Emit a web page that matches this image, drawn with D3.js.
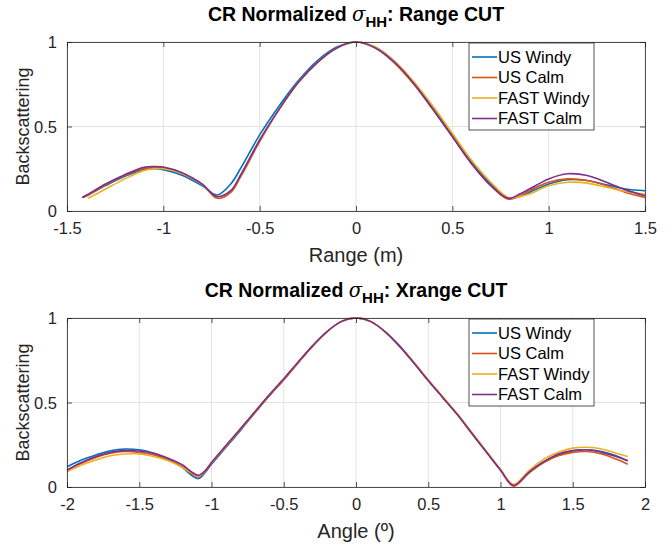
<!DOCTYPE html>
<html>
<head>
<meta charset="utf-8">
<script src="https://cdn.jsdelivr.net/npm/d3@7"></script>
<style>
  body { margin: 0; background: #fff; }
  svg { display: block; font-family: "Liberation Sans", Arial, sans-serif; }
</style>
</head>
<body>
<svg id="chart" width="671" height="544"></svg>
<script>
// series names and colours (MATLAB default order)
const seriesNames = ['US Windy', 'US Calm', 'FAST Windy', 'FAST Calm'];
const seriesColors = ['#0072BD', '#D95319', '#EDB120', '#7E2F8E'];

// Range cut (top panel)
const rangeX = [-1.42,-1.39,-1.3,-1.2,-1.1,-1.05,-1.0,-0.9,-0.8,-0.72,-0.65,-0.6,-0.5,-0.4,-0.3,-0.2,-0.1,0,
  0.1,0.2,0.3,0.4,0.5,0.6,0.7,0.79,0.85,0.9,1.0,1.1,1.2,1.3,1.4,1.5];
const rangeUSWindy = [0.08,0.095,0.15,0.205,0.245,0.25,0.245,0.21,0.15,0.095,0.16,0.25,0.45,0.62,0.77,0.89,0.97,1,
  0.97,0.885,0.76,0.61,0.45,0.29,0.16,0.075,0.085,0.11,0.16,0.185,0.18,0.155,0.13,0.12];
const rangeUSCalm = [0.08,0.095,0.155,0.21,0.25,0.258,0.255,0.22,0.16,0.075,0.11,0.2,0.41,0.6,0.76,0.88,0.965,1,
  0.965,0.875,0.75,0.6,0.44,0.28,0.15,0.07,0.09,0.12,0.17,0.19,0.18,0.15,0.11,0.08];
const rangeFASTWindy = [null,0.075,0.13,0.19,0.24,0.25,0.25,0.22,0.16,0.085,0.12,0.21,0.42,0.6,0.76,0.88,0.965,1,
  0.97,0.885,0.765,0.62,0.46,0.3,0.17,0.08,0.085,0.1,0.15,0.17,0.165,0.14,0.115,0.10];
const rangeFASTCalm = [0.08,0.1,0.16,0.215,0.258,0.263,0.26,0.225,0.16,0.085,0.12,0.21,0.42,0.6,0.76,0.88,0.965,1,
  0.965,0.88,0.755,0.6,0.44,0.28,0.15,0.075,0.1,0.13,0.19,0.22,0.21,0.17,0.125,0.09];

// Xrange cut (bottom panel)
const xrangeX = [-2,-1.9,-1.8,-1.7,-1.6,-1.5,-1.4,-1.3,-1.2,-1.14,-1.09,-1.04,-1.0,-0.9,-0.8,-0.7,-0.6,-0.5,-0.4,-0.3,-0.2,-0.1,0,
  0.1,0.2,0.3,0.4,0.5,0.6,0.7,0.8,0.9,1.0,1.09,1.2,1.3,1.4,1.5,1.6,1.7,1.8,1.88];
const xrangeUSWindy = [0.12,0.16,0.19,0.215,0.225,0.22,0.2,0.165,0.115,0.07,0.05,0.09,0.135,0.235,0.335,0.44,0.54,0.635,0.735,0.835,0.92,0.98,1,
  0.98,0.92,0.835,0.735,0.63,0.53,0.43,0.32,0.21,0.1,0.01,0.09,0.15,0.19,0.215,0.22,0.21,0.185,0.155];
const xrangeUSCalm = [0.10,0.14,0.175,0.2,0.21,0.205,0.19,0.16,0.12,0.08,0.06,0.095,0.14,0.24,0.34,0.44,0.54,0.635,0.735,0.835,0.92,0.98,1,
  0.98,0.92,0.835,0.735,0.63,0.53,0.43,0.32,0.21,0.1,0.005,0.085,0.145,0.185,0.205,0.21,0.195,0.165,0.135];
const xrangeFASTWindy = [0.09,0.13,0.16,0.185,0.195,0.195,0.18,0.155,0.115,0.085,0.065,0.1,0.145,0.245,0.345,0.445,0.545,0.64,0.74,0.835,0.92,0.98,1,
  0.98,0.92,0.835,0.74,0.635,0.535,0.435,0.325,0.215,0.105,0.015,0.1,0.165,0.205,0.23,0.235,0.225,0.2,0.18];
const xrangeFASTCalm = [0.10,0.145,0.18,0.205,0.215,0.213,0.2,0.17,0.13,0.09,0.07,0.1,0.145,0.245,0.345,0.445,0.545,0.64,0.74,0.835,0.92,0.98,1,
  0.98,0.92,0.835,0.735,0.63,0.53,0.43,0.32,0.21,0.1,0.01,0.09,0.15,0.195,0.215,0.22,0.205,0.18,0.155];

const rangeTicks = [-1.5, -1, -0.5, 0, 0.5, 1, 1.5];
const xrangeTicks = [-2, -1.5, -1, -0.5, 0, 0.5, 1, 1.5, 2];
const yTicks = [0, 0.5, 1];

const svg = d3.select('#chart');
svg.append('rect').attr('width', 671).attr('height', 544).attr('fill', '#fff');

const panels = [
  { top: 42, domain: [-1.5, 1.5], ticks: rangeTicks, xs: rangeX,
    series: [rangeUSWindy, rangeUSCalm, rangeFASTWindy, rangeFASTCalm],
    cut: ': Range CUT', xlabel: 'Range (m)' },
  { top: 318, domain: [-2, 2], ticks: xrangeTicks, xs: xrangeX,
    series: [xrangeUSWindy, xrangeUSCalm, xrangeFASTWindy, xrangeFASTCalm],
    cut: ': Xrange CUT', xlabel: 'Angle (º)' }
];

const left = 67, right = 645, plotH = 169;
const axisColor = '#262626';

panels.forEach(p => {
  const x = d3.scaleLinear().domain(p.domain).range([left, right]);
  const y = d3.scaleLinear().domain([0, 1]).range([p.top + plotH, p.top]);
  const g = svg.append('g');

  // grid
  g.append('g').selectAll('line')
    .data(p.ticks)
    .join('line')
      .attr('x1', d => x(d)).attr('x2', d => x(d))
      .attr('y1', p.top).attr('y2', p.top + plotH)
      .attr('stroke', '#e3e3e3');
  g.append('g').selectAll('line')
    .data(yTicks)
    .join('line')
      .attr('x1', left).attr('x2', right)
      .attr('y1', d => y(d)).attr('y2', d => y(d))
      .attr('stroke', '#e3e3e3');

  // lines
  p.series.forEach((vals, i) => {
    const pts = p.xs.map((xv, k) => [xv, vals[k]]).filter(d => d[1] !== null);
    g.append('path')
      .datum(pts)
      .attr('fill', 'none')
      .attr('stroke', seriesColors[i])
      .attr('stroke-width', 1.6)
      .attr('d', d3.line().x(d => x(d[0])).y(d => y(d[1])).curve(d3.curveCatmullRom.alpha(0.5)));
  });

  // axes with inward ticks, plain hyphen for negatives like MATLAB
  const plain = d => String(d);
  const bottomAx = g.append('g').attr('transform', `translate(0,${p.top + plotH})`)
    .call(d3.axisBottom(x).tickValues(p.ticks).tickSize(-5).tickPadding(11).tickFormat(plain));
  const topAx = g.append('g').attr('transform', `translate(0,${p.top})`)
    .call(d3.axisTop(x).tickValues(p.ticks).tickSize(-5).tickFormat(''));
  const leftAx = g.append('g').attr('transform', `translate(${left},0)`)
    .call(d3.axisLeft(y).tickValues(yTicks).tickSize(-5).tickPadding(10).tickFormat(plain));
  const rightAx = g.append('g').attr('transform', `translate(${right},0)`)
    .call(d3.axisRight(y).tickValues(yTicks).tickSize(-5).tickFormat(''));
  [bottomAx, topAx, leftAx, rightAx].forEach(a => {
    a.select('.domain').attr('stroke', axisColor).attr('stroke-width', 0.8);
    a.selectAll('.tick line').attr('stroke', axisColor).attr('stroke-width', 0.8);
    a.selectAll('.tick text').attr('fill', axisColor).style('font-size', '16.5px')
      .style('font-family', '"Liberation Sans", Arial, sans-serif');
  });
  leftAx.selectAll('.tick text').attr('dy', '0.35em');

  // axis labels
  g.append('text')
    .attr('x', (left + right) / 2).attr('y', p.top + plotH + 51)
    .attr('text-anchor', 'middle').attr('fill', axisColor)
    .style('font-size', '20px').text(p.xlabel);
  g.append('text')
    .attr('transform', `translate(29,${p.top + plotH / 2}) rotate(-90)`)
    .attr('text-anchor', 'middle').attr('fill', axisColor)
    .style('font-size', '18px').text('Backscattering');

  // title
  const title = g.append('text')
    .attr('x', (left + right) / 2).attr('y', p.top - 21)
    .attr('text-anchor', 'middle').attr('fill', '#000')
    .style('font-size', '19.5px').style('font-weight', 'bold');
  title.append('tspan').text('CR Normalized ');
  title.append('tspan').style('font-family', '"DejaVu Serif", serif').style('font-style', 'italic')
    .style('font-weight', 'normal').text('σ');
  title.append('tspan').attr('dy', 6).style('font-size', '15px').text('HH');
  title.append('tspan').attr('dy', -6).text(p.cut);

  // legend
  const lg = g.append('g').attr('transform', `translate(469,${p.top + 1})`);
  lg.append('rect').attr('width', 125).attr('height', 87)
    .attr('fill', '#fff').attr('stroke', axisColor).attr('stroke-width', 0.8);
  seriesNames.forEach((name, i) => {
    const yy = 14 + i * 20.5;
    lg.append('line').attr('x1', 3).attr('x2', 28).attr('y1', yy).attr('y2', yy)
      .attr('stroke', seriesColors[i]).attr('stroke-width', 1.6);
    lg.append('text').attr('x', 29).attr('y', yy).attr('dy', '0.36em')
      .attr('fill', '#000').style('font-size', '16.5px').text(name);
  });
});
</script>
</body>
</html>
